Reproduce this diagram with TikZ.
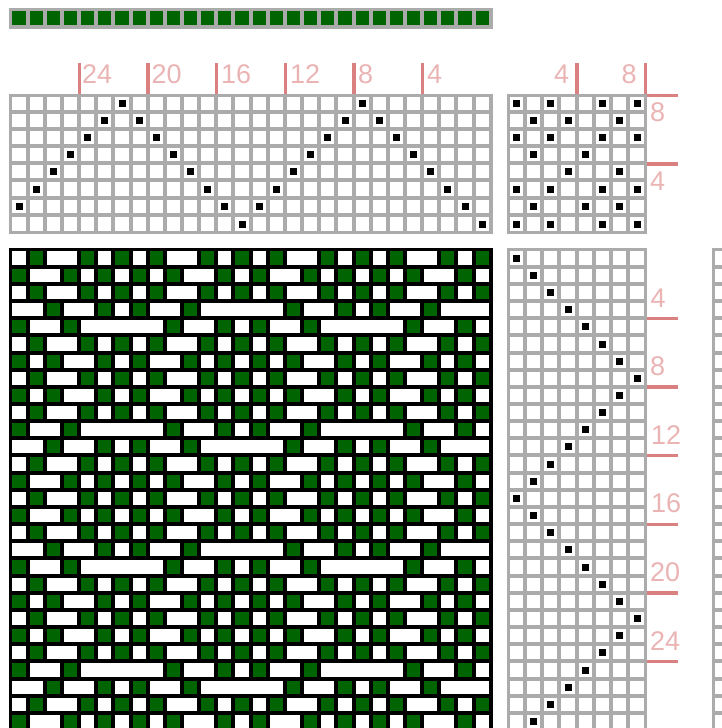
\documentclass[tikz,border=0pt]{standalone}
\usepackage{fontspec}
\setmainfont{Liberation Sans}
\definecolor{gridgray}{HTML}{ABABAB}
\definecolor{warpgreen}{HTML}{006400}
\definecolor{tickred}{HTML}{DB8080}
\definecolor{digitpink}{HTML}{EBB4B4}
\tikzset{
  digit/.style={text=digitpink,font=\fontsize{27}{27}\selectfont,inner sep=0pt,anchor=base west},
  tickmark/.style={fill=tickred},
  gridbg/.style={fill=gridgray},
  cellw/.style={fill=white},
  peg/.style={fill=black}
}
% pixel positions of the cells
\def\Xm{{12,30,47,64,81,98,115,133,150,167,184,201,218,235,253,270,287,304,321,338,356,373,390,407,424,441,458,476,493}}
\def\Xt{{510,527,544,561,579,596,613,630,648}}
\def\Yt{{97,114,131,148,165,182,200,217,235}}
\def\Ym{{251,269,286,303,320,337,355,372,389,406,423,440,457,475,492,509,526,543,560,578,595,612,629,646,663,681,698,715,732}}
% shaft of each warp end (row from the top), treadle of each pick
\def\Shaft{{6,5,4,3,2,1,0,1,2,3,4,5,6,7,6,5,4,3,2,1,0,1,2,3,4,5,6,7}}
\def\Tread{{0,1,2,3,4,5,6,7,6,5,4,3,2,1,0,1,2,3,4,5,6,7,6,5,4,3,2,1}}
% tie-up: Tie[treadle][shaft]
\def\Tie{{{1,0,1,0,0,1,0,1},{0,1,0,1,0,0,1,0},{1,0,1,0,0,1,0,1},{0,1,0,0,1,0,0,0},{0,0,0,1,0,0,1,0},{1,0,1,0,0,1,0,1},{0,1,0,0,1,0,1,0},{1,0,1,0,0,1,0,1}}}
\begin{document}
\begin{tikzpicture}[x=1pt,y=-1pt]
\useasboundingbox (0,0) rectangle (722,728);
\clip (0,0) rectangle (722,728);
\fill[white] (0,0) rectangle (722,728);
% warp colour strip
\fill[gridbg] (9,8) rectangle (493,29);
\foreach \c in {0,...,27}{
  \pgfmathsetmacro\xa{\Xm[\c]}
  \pgfmathsetmacro\xb{\Xm[\c+1]-4}
  \fill[warpgreen] (\xa,11) rectangle (\xb,25);
}
% threading
\fill[gridbg] (9,94) rectangle (493,234);
\foreach \c in {0,...,27}{
  \pgfmathsetmacro\xa{\Xm[\c]}
  \pgfmathsetmacro\xb{\Xm[\c+1]-4}
  \pgfmathtruncatemacro\sh{\Shaft[\c]}
  \foreach \r in {0,...,7}{
    \pgfmathsetmacro\ya{\Yt[\r]}
    \pgfmathsetmacro\yb{\Yt[\r+1]-4}
    \fill[cellw] (\xa,\ya) rectangle (\xb,\yb);
    \ifnum\r=\sh
      \fill[peg] ({(\xa+\xb)/2-3.5},{(\ya+\yb)/2-3.5}) rectangle +(7,7);
    \fi
  }
}
% tie-up
\fill[gridbg] (507,94) rectangle (647,234);
\foreach \t in {0,...,7}{
  \pgfmathsetmacro\xa{\Xt[\t]}
  \pgfmathsetmacro\xb{\Xt[\t+1]-4}
  \foreach \r in {0,...,7}{
    \pgfmathsetmacro\ya{\Yt[\r]}
    \pgfmathsetmacro\yb{\Yt[\r+1]-4}
    \pgfmathtruncatemacro\on{\Tie[\t][\r]}
    \fill[cellw] (\xa,\ya) rectangle (\xb,\yb);
    \ifnum\on=1
      \fill[peg] ({(\xa+\xb)/2-3.5},{(\ya+\yb)/2-3.5}) rectangle +(7,7);
    \fi
  }
}
% drawdown
\fill[black] (9,248) rectangle (493,728);
\foreach \r in {0,...,27}{
  \pgfmathsetmacro\ya{\Ym[\r]}
  \pgfmathsetmacro\yb{\Ym[\r+1]-4}
  \pgfmathtruncatemacro\tr{\Tread[\r]}
  \foreach \c in {0,...,27}{
    \pgfmathsetmacro\xa{\Xm[\c]}
    \pgfmathtruncatemacro\here{\Tie[\tr][\Shaft[\c]]}
    \pgfmathtruncatemacro\nxt{\c<27 ? \Tie[\tr][\Shaft[min(\c+1,27)]] : 1}
    \ifnum\here=1
      \pgfmathsetmacro\xb{\Xm[\c+1]-4}
      \fill[warpgreen] (\xa,\ya) rectangle (\xb,\yb);
    \else
      \ifnum\nxt=1
        \pgfmathsetmacro\xb{\Xm[\c+1]-4}
      \else
        \pgfmathsetmacro\xb{\Xm[\c+1]}
      \fi
      \fill[cellw] (\xa,\ya) rectangle (\xb,\yb);
    \fi
  }
}
% treadling, and the grid cut off at the right edge
\fill[gridbg] (507,248) rectangle (647,728);
\fill[gridbg] (712,248) rectangle (722,728);
\foreach \r in {0,...,27}{
  \pgfmathsetmacro\ya{\Ym[\r]}
  \pgfmathsetmacro\yb{\Ym[\r+1]-4}
  \pgfmathtruncatemacro\tr{\Tread[\r]}
  \fill[cellw] (715,\ya) rectangle (722,\yb);
  \foreach \t in {0,...,7}{
    \pgfmathsetmacro\xa{\Xt[\t]}
    \pgfmathsetmacro\xb{\Xt[\t+1]-4}
    \fill[cellw] (\xa,\ya) rectangle (\xb,\yb);
    \ifnum\t=\tr
      \fill[peg] ({(\xa+\xb)/2-3.5},{(\ya+\yb)/2-3.5}) rectangle +(7,7);
    \fi
  }
}
% ticks
\foreach \a/\b in {78/81,146/150,215/218,284/287,352/356,421/424,575/579,644/647}
  \fill[tickmark] (\a,63) rectangle (\b,94);
\foreach \a/\b in {94/97,162/166,317/320,385/389,454/457,523/526,591/595,660/663}
  \fill[tickmark] (647,\a) rectangle (678,\b);
% numbers
\node[digit] (w24) at (82,83) {24};
\node[digit] (w20) at (151.5,83) {20};
\node[digit] (w16) at (221,83) {16};
\node[digit] (w12) at (290,83) {12};
\node[digit] (w8) at (358,83) {8};
\node[digit] (w4) at (427,83) {4};
\node[digit] (c4) at (554,83) {4};
\node[digit] (c8) at (621.5,83) {8};
\node[digit] (s8) at (650,121) {8};
\node[digit] (s4) at (650,190) {4};
\node[digit] (t4) at (650.5,307) {4};
\node[digit] (t8) at (650,375) {8};
\node[digit] (t12) at (651,444) {12};
\node[digit] (t16) at (651,512.5) {16};
\node[digit] (t20) at (650,581) {20};
\node[digit] (t24) at (650,650) {24};
\end{tikzpicture}
\end{document}
